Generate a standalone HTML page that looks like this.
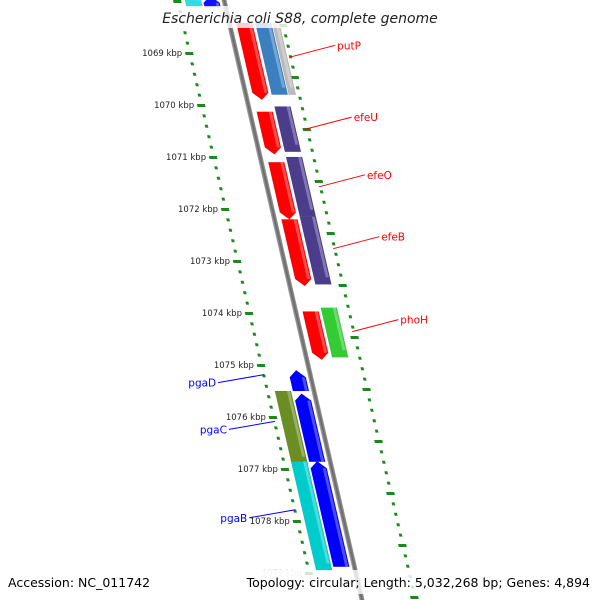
<!DOCTYPE html>
<html><head><meta charset="utf-8"><style>
body{margin:0;background:#fff;font-family:"DejaVu Sans","Liberation Sans",sans-serif;overflow:hidden}
svg{display:block}
</style></head><body>
<svg id="map" width="600" height="600" viewBox="0 0 600 600" xmlns="http://www.w3.org/2000/svg">
<defs>
<linearGradient id="bb" x1="0" x2="1"><stop offset="0" stop-color="#aaa"/><stop offset="0.5" stop-color="#666"/><stop offset="1" stop-color="#999"/></linearGradient>
</defs>
<g id="sk" transform="matrix(1,0,0.23,1,0,0)"></g>
<g id="lbl"></g>
<rect x="150" y="6" width="300" height="22" fill="#fff" opacity="0.8"/>
<text x="300" y="23" text-anchor="middle" font-size="14" font-style="italic" fill="#222">Escherichia coli S88, complete genome</text>
<rect x="0" y="570" width="600" height="24" fill="#fff" opacity="0.8"/>
<text x="8" y="587" font-size="12.5" fill="#000">Accession: NC_011742</text>
<text x="590" y="587" text-anchor="end" font-size="12.5" fill="#000">Topology: circular; Length: 5,032,268 bp; Genes: 4,894</text>
</svg>
<script>
const kbpTicks=[1069,1070,1071,1072,1073,1074,1075,1076,1077,1078,1079];
const geneNames=["","putP","","efeU","","efeO","","efeB","","phoH","","","pgaD","","pgaC","","pgaB",""];
const geneStarts=[1067.9,1068.42,1068.42,1070.13,1070.03,1071.1,1071.0,1072.2,1072.15,1073.97,1073.9,1067.9,1075.1,1075.55,1075.5,1076.85,1076.85,1068.42];
const geneEnds=[1068.12,1069.9,1069.8,1070.95,1070.9,1072.2,1072.15,1073.48,1073.45,1074.9,1074.85,1068.12,1075.5,1076.86,1076.9,1078.88,1078.95,1069.8];
const geneStrand=[-1,1,1,1,1,1,1,1,1,1,1,-1,-1,-1,-1,-1,-1,1];
const geneRing=[2,1,2,1,2,1,2,1,2,1,2,1,1,1,2,1,2,3];
const geneColors=["#33dddd","#ff0000","#3a80c0","#ff0000","#4b3c8c","#ff0000","#4b3c8c","#ff0000","#4b3c8c","#ff0000","#33cc33","#1010ff","#0000ff","#0000ff","#6b8e23","#0000ff","#00cccc","#bbbbbb"];
const labelColors={1:"#ff0000",3:"#ff0000",5:"#ff0000",7:"#ff0000",9:"#ff0000",12:"#0000ff",14:"#0000ff",16:"#0000ff"};
const NS="http://www.w3.org/2000/svg";
function yOf(k){return 105+(k-1070)*52;}
function xAt(u,y){return u+0.23*y;}
const sk=document.getElementById('sk'),lbl=document.getElementById('lbl');
function mk(tag,attrs,parent){const e=document.createElementNS(NS,tag);for(const k in attrs)e.setAttribute(k,attrs[k]);parent.appendChild(e);return e;}
const bb=mk('rect',{x:221.5,y:-10,width:5,height:620,fill:'url(#bb)'},sk);


for(let k=1068;k<=1079.5;k+=0.2){
  const kk=Math.round(k*10)/10, major=Math.abs(kk-Math.round(kk))<0.01;
  const y=yOf(kk);
  if(y<590){
  const t=mk('rect',{x:major?173:176,y:y-1,width:major?8:3,height:3,fill:'#1a8a1a'},sk);
  
  }
  const y2=y+24;
  if(y2<598){
  const t2=mk('rect',{x:major?273:276,y:y2-1,width:major?8:3,height:3,fill:'#1a8a1a'},sk);
  
  }
}
kbpTicks.forEach(k=>{const y=yOf(k);const t=mk('text',{x:xAt(170,y),y:y+3,'text-anchor':'end','font-size':8.5,fill:k==1079?'#ccc':'#222'},lbl);t.textContent=k+' kbp';

});
const ringU={1:[231,247],2:[250,266],3:[267,274]};
const ringL={1:[203,219],2:[185,201]};
geneStarts.forEach((s,i)=>{
  const st=geneStrand[i],r=st>0?ringU[geneRing[i]]:ringL[geneRing[i]];
  const y1=yOf(s),y2=yOf(geneEnds[i]),u1=r[0],u2=r[1],um=(u1+u2)/2;
  let pts;
  const isCds=geneRing[i]==1;
  if(isCds&&st>0)pts=[[u1,y1],[u2,y1],[u2,y2-7],[um,y2],[u1,y2-7]];
  else if(isCds&&st<0)pts=[[um,y1],[u2,y1+7],[u2,y2],[u1,y2],[u1,y1+7]];
  else pts=[[u1,y1],[u2,y1],[u2,y2],[u1,y2]];
  const p=mk('polygon',{points:pts.map(q=>q.join(',')).join(' '),fill:geneColors[i],stroke:'rgba(0,0,0,0.15)','stroke-width':0.5},sk);
  
  
  const h=mk('rect',{x:u2-4,y:y1+(st<0&&isCds?7:0),width:3,height:Math.max(0,y2-y1-7),fill:'#fff',opacity:0.3},sk);
  
  
  if(geneNames[i]){
    const ym=(y1+y2)/2, col=labelColors[i];
    let ax,ay,tx,ty,anchor;
    if(st>0){ax=xAt(276,ym-4);ay=ym-4;tx=ax+48;ty=ym-16;anchor='start';}
    else{ax=xAt(178,ym-6);ay=ym-6;tx=ax-48;ty=ym+2;anchor='end';}
    const l=mk('line',{x1:ax,y1:ay,x2:tx+(st>0?-2:2),y2:ty,stroke:col,'stroke-width':1},lbl);
    
    
    const t=mk('text',{x:tx,y:ty+4,'text-anchor':anchor,'font-size':10.5,fill:col},lbl);
    t.textContent=geneNames[i];
    
    
  }
});
</script>
</body></html>
